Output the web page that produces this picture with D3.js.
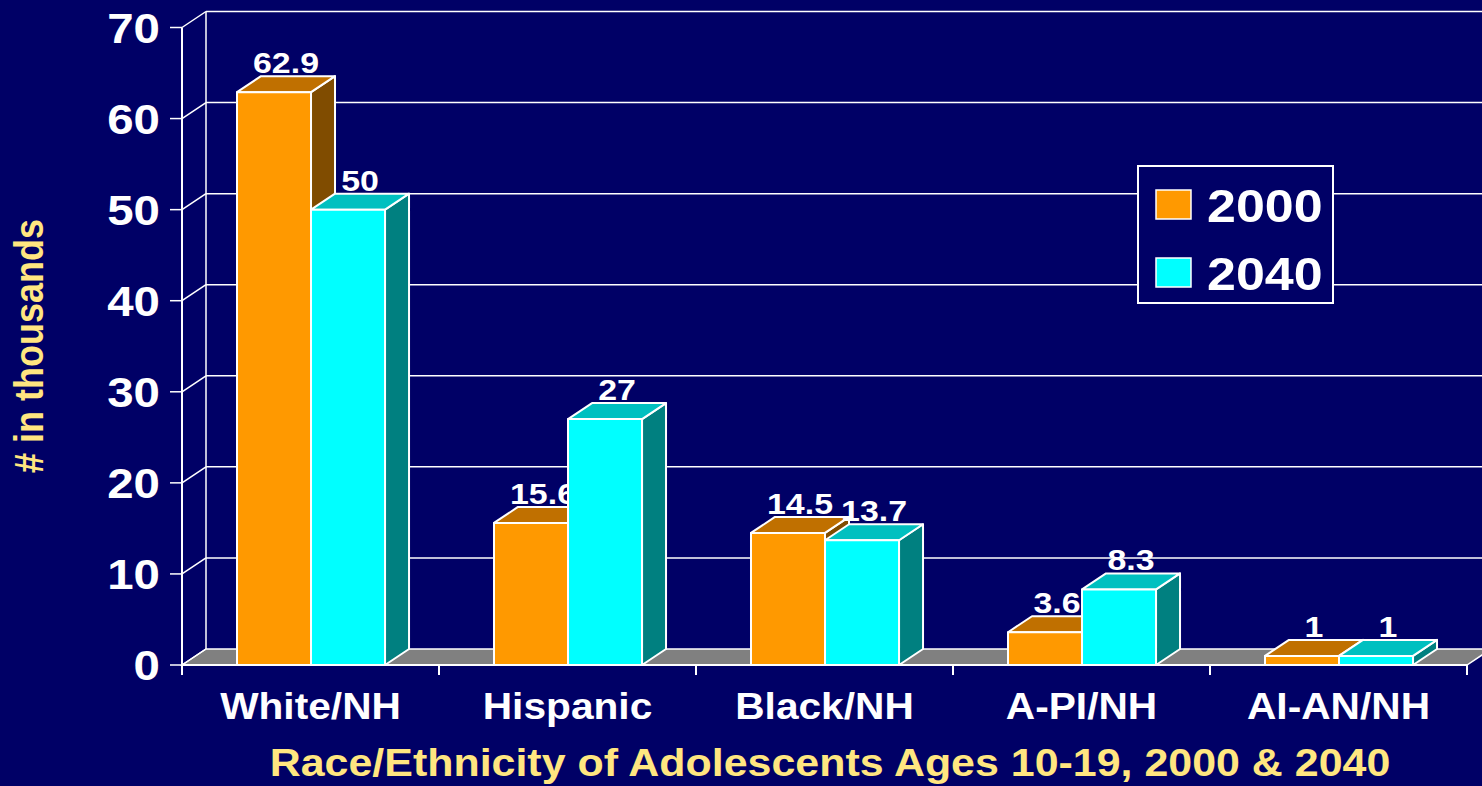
<!DOCTYPE html>
<html>
<head>
<meta charset="utf-8">
<script src="https://cdn.jsdelivr.net/npm/d3@7"></script>
<style>
  html, body { margin: 0; padding: 0; background: #000066; }
  svg { display: block; }
  text { font-family: "Liberation Sans", Arial, sans-serif; font-weight: bold; }
</style>
</head>
<body>
<div id="chart"></div>
<script>
const categories = ['White/NH', 'Hispanic', 'Black/NH', 'A-PI/NH', 'AI-AN/NH'];
const years = ['2000', '2040'];
const values2000 = [62.9, 15.6, 14.5, 3.6, 1];
const values2040 = [50, 27, 13.7, 8.3, 1];
const yTicks = [0, 10, 20, 30, 40, 50, 60, 70];
const yTitle = '# in thousands';
const xTitle = 'Race/Ethnicity of Adolescents Ages 10-19, 2000 & 2040';

const width = 1482, height = 786;
const depth = {dx: 24, dy: -16};
const stretch = 1.13; // text in the picture is a bit wide

const colors = {
	'2000': {front: '#ff9900', top: '#c07000', side: '#804c00'},
	'2040': {front: '#00ffff', top: '#00c0c0', side: '#008080'}
}

const svg = d3.select('#chart').append('svg')
.attr('width', width)
.attr('height', height)

svg.append('rect')
.attr('width', width)
.attr('height', height)
.attr('fill', '#000066')

let xScale = d3.scaleBand()
.domain(categories)
.range([182, 1467])

let bw = xScale.bandwidth();

let xInner = d3.scaleBand()
.domain(years)
.range([bw * 0.214, bw * 0.79])

let yScale = d3.scaleLinear()
.domain([0, 70])
.range([665, 27.5])

const base = yScale(0);
const x0 = xScale.range()[0], x1 = xScale.range()[1];

const put = (sel, x, y, extra = '') => sel.attr('transform', `translate(${x},${y}) scale(${stretch},1) ${extra}`)

// floor
svg.append('polygon')
.attr('points', [[x0, base], [x0 + depth.dx, base + depth.dy], [x1 + depth.dx, base + depth.dy], [x1, base]].join(' '))
.attr('fill', '#808080')
.attr('stroke', '#fff')
.attr('stroke-width', 1.5)

// back wall gridlines and side wall connectors
let grid = svg.append('g')
.attr('stroke', '#fff')
.attr('stroke-width', 1.5)

yTicks.forEach(t => {
	let y = yScale(t);
	if (t > 0) {
		grid.append('line')
		.attr('x1', x0 + depth.dx).attr('x2', width + 30)
		.attr('y1', y + depth.dy).attr('y2', y + depth.dy)
	}
	grid.append('line')
	.attr('x1', x0).attr('x2', x0 + depth.dx)
	.attr('y1', y).attr('y2', y + depth.dy)
	grid.append('line')
	.attr('x1', x0 - 12).attr('x2', x0)
	.attr('y1', y).attr('y2', y)
})

grid.append('line')
.attr('x1', x0 + depth.dx).attr('x2', x0 + depth.dx)
.attr('y1', base + depth.dy).attr('y2', yScale(70) + depth.dy)

// bars, each followed by its label
let bars = svg.append('g')

categories.forEach((cat, i) => {
	[values2000[i], values2040[i]].forEach((v, j) => {
		let yr = years[j];
		let x = xScale(cat) + xInner(yr);
		let w = xInner.bandwidth();
		let yt = yScale(v);
		let c = colors[yr];
		let g = bars.append('g')
		.attr('stroke', '#fff')
		.attr('stroke-width', 2)
		.attr('stroke-linejoin', 'round')

		g.append('polygon')
		.attr('points', [[x + w, yt], [x + w + depth.dx, yt + depth.dy], [x + w + depth.dx, base + depth.dy], [x + w, base]].join(' '))
		.attr('fill', c.side)

		g.append('polygon')
		.attr('points', [[x, yt], [x + depth.dx, yt + depth.dy], [x + w + depth.dx, yt + depth.dy], [x + w, yt]].join(' '))
		.attr('fill', c.top)

		g.append('rect')
		.attr('x', x).attr('y', yt)
		.attr('width', w).attr('height', base - yt)
		.attr('fill', c.front)

		bars.append('text')
		.call(put, x + w / 2 + depth.dx / 2, yt + depth.dy - 3)
		.attr('text-anchor', 'middle')
		.attr('fill', '#fff')
		.attr('font-size', 30)
		.text(v)
	})
})

// front axes
let axis = svg.append('g')
.attr('stroke', '#fff')
.attr('stroke-width', 2)

axis.append('line')
.attr('x1', x0).attr('x2', x1)
.attr('y1', base).attr('y2', base)

axis.append('line')
.attr('x1', x0).attr('x2', x0)
.attr('y1', base + 10).attr('y2', yScale(70))

categories.concat(['end']).forEach((cat, i) => {
	let x = x0 + i * bw;
	axis.append('line')
	.attr('x1', x).attr('x2', x)
	.attr('y1', base).attr('y2', base + 10)
})

// tick labels
yTicks.forEach(t => {
	svg.append('text')
	.call(put, 160, yScale(t) + 15)
	.attr('text-anchor', 'end')
	.attr('fill', '#fff')
	.attr('font-size', 42)
	.text(t)
})

categories.forEach(cat => {
	svg.append('text')
	.call(put, xScale(cat) + bw / 2, 719)
	.attr('text-anchor', 'middle')
	.attr('fill', '#fff')
	.attr('font-size', 36)
	.text(cat)
})

// axis titles
svg.append('text')
.attr('transform', `translate(43,346) scale(${stretch},1) rotate(-90)`)
.attr('text-anchor', 'middle')
.attr('fill', '#ffe680')
.attr('font-size', 36)
.text(yTitle)

svg.append('text')
.call(put, 830, 776)
.attr('text-anchor', 'middle')
.attr('fill', '#ffe680')
.attr('font-size', 38)
.text(xTitle)

// legend
let legend = svg.append('g')

legend.append('rect')
.attr('x', 1138).attr('y', 166)
.attr('width', 195).attr('height', 137)
.attr('fill', '#000066')
.attr('stroke', '#fff')
.attr('stroke-width', 2)

years.forEach((yr, i) => {
	let y = 190 + i * 68;
	legend.append('rect')
	.attr('x', 1156).attr('y', y)
	.attr('width', 35).attr('height', 29)
	.attr('fill', colors[yr].front)
	.attr('stroke', '#fff')
	.attr('stroke-width', 1.5)

	legend.append('text')
	.call(put, 1207, y + 32)
	.attr('fill', '#fff')
	.attr('font-size', 46)
	.text(yr)
})
</script>
</body>
</html>
